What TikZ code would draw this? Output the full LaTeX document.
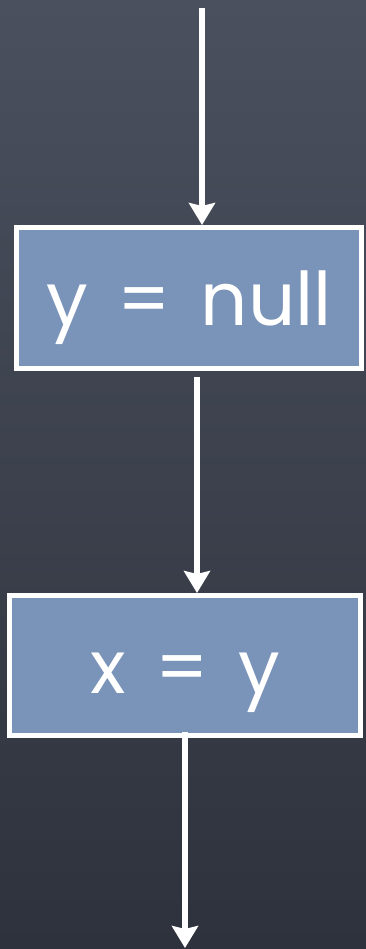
\documentclass[tikz,border=0pt]{standalone}
\usepackage{fontspec}
\setmainfont{Poppins}[WordSpace=1.5]
\usetikzlibrary{arrows.meta,calc,positioning}
\definecolor{slatetop}{RGB}{74,80,94}
\definecolor{slatebot}{RGB}{46,50,60}
\definecolor{boxblue}{RGB}{122,147,184}
\tikzset{
  stmt/.style={draw=white,line width=5pt,fill=boxblue,text=white,font=\fontsize{74}{76}\selectfont,
    inner sep=0pt,text height=60pt,text depth=5pt},
  flow/.style={white,line width=6pt,-{Stealth[length=22pt,width=26pt,inset=3pt]}}
}
\begin{document}
\begin{tikzpicture}[x=1pt,y=1pt]
% background
\shade[top color=slatetop,bottom color=slatebot] (0,0) rectangle (366,-949);
\useasboundingbox (0,0) rectangle (366,-949);
% statements
\node[stmt,minimum width=345pt,minimum height=141pt] (ynull) at (189,-298) {y = null};
\node[stmt,minimum width=351pt,minimum height=140pt] (xy) at (185,-665.5) {x = y};
% free ends
\coordinate (entry) at (202,-8);
\coordinate (mid) at (197,-400);
\coordinate (exit) at (185,-948);
% flow edges
\draw[flow] (entry) -- (entry |- ynull.north);
\draw[flow,shorten <=6pt] (mid |- ynull.south) -- (mid |- xy.north);
\draw[flow,shorten <=-6pt] (xy.south) -- (exit);
\end{tikzpicture}
\end{document}
